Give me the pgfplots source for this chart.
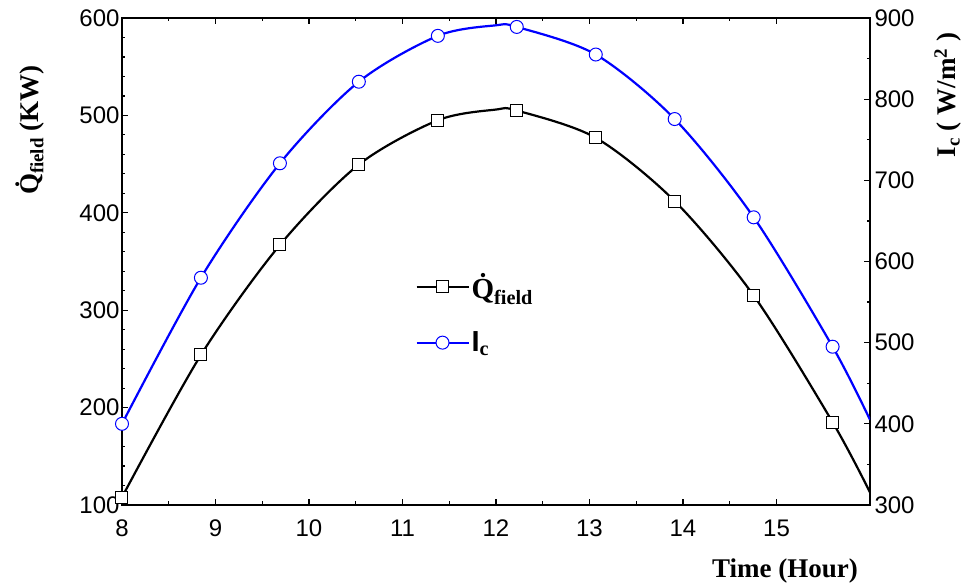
\documentclass[border=0pt]{standalone}
\usepackage{fontspec}
\setmainfont{Liberation Serif}
\setsansfont{Liberation Sans}
\usepackage{pgfplots}
\usepackage{pgfplotstable}
\pgfplotsset{compat=1.18}

% Q_field (KW), curve points
\pgfplotstableread{
x      q
8      108
8.844  254
9.689  367
10.533 449.5
11.378 495
12.0   506
12.222 505
13.067 477
13.911 412
14.756 315
15.6   185
16     113
}\qline
\pgfplotstableread{
x      q
8      108
8.844  254
9.689  367
10.533 449.5
11.378 495
12.222 505
13.067 477
13.911 412
14.756 315
15.6   185
}\qmarks
% I_c (W/m^2)
\pgfplotstableread{
x      i
8      400
8.844  580
9.689  721
10.533 821.5
11.378 878
12.0   891
12.222 889
13.067 855
13.911 775.5
14.756 654.4
15.6   495
16     405
}\iline
\pgfplotstableread{
x      i
8      400
8.844  580
9.689  721
10.533 821.5
11.378 878
12.222 889
13.067 855
13.911 775.5
14.756 654.4
15.6   495
}\imarks

\begin{document}
\begin{tikzpicture}
\pgfplotsset{
  every axis/.append style={
    scale only axis, width=748pt, height=487pt,
    at={(0pt,0pt)}, anchor=south west,
    xmin=8, xmax=16,
    tick align=inside,
    major tick length=6pt, minor tick length=3.5pt,
    every tick/.style={black, line width=1.2pt},
    tick label style={font=\fontsize{24}{24}\selectfont\sffamily},
    xticklabel style={yshift=-11pt},
    yticklabel style={xshift=1pt},
    /pgf/number format/assume math mode=true,
    axis line style={line width=2.8pt},
  },
}
\begin{axis}[
  ymin=100, ymax=600,
  ytick={100,200,...,600}, minor y tick num=4,
  xtick={8,...,15}, minor x tick num=1,
  ytick pos=left, xtick pos=both, xticklabel pos=bottom,
  legend style={draw=none, fill=none, at={(rel axis cs:0.392,0.48)}, anchor=north west,
    font=\fontsize{29}{31}\selectfont\bfseries, row sep=28pt, inner sep=0pt},
  legend cell align=left,
  legend image code/.code={\draw[mark repeat=2, mark phase=2, #1] plot coordinates {(0pt,0pt) (26pt,0pt) (52pt,0pt)};},
]
\addplot[black, line width=2.2pt, smooth, forget plot] table[x=x, y=q] {\qline};
\addplot[only marks, mark=square*, mark size=6pt, mark options={fill=white, draw=black, line width=1pt}, forget plot] table[x=x, y=q] {\qmarks};
\addlegendimage{black, line width=2.2pt, mark=square*, mark size=6pt, mark options={fill=white, draw=black, line width=1pt}}
\addlegendentry{\.{Q}\textsubscript{field}}
\addlegendimage{blue, line width=2.2pt, mark=*, mark size=6.5pt, mark options={fill=white, draw=blue, line width=1pt}}
\addlegendentry{{\sffamily I}\textsubscript{c}}
\end{axis}

\begin{axis}[
  ymin=300, ymax=900,
  ytick={300,400,...,900}, minor y tick num=1,
  axis y line*=right, axis x line=none,
]
\addplot[blue, line width=2.2pt, smooth] table[x=x, y=i] {\iline};
\addplot[only marks, mark=*, mark size=6.5pt, mark options={fill=white, draw=blue, line width=1pt}] table[x=x, y=i] {\imarks};
\end{axis}

\node[rotate=90, font=\fontsize{27}{27}\selectfont\bfseries] at (-92pt,375pt) {\.{Q}\textsubscript{field} (KW)};
\node[rotate=90, font=\fontsize{27}{27}\selectfont\bfseries] at (826pt,410pt) {I\textsubscript{c} ( W/m\textsuperscript{2} )};
\node[font=\fontsize{27}{27}\selectfont\bfseries] at (663pt,-66pt) {Time (Hour)};

\pgfresetboundingbox
\path (-122pt,-83pt) rectangle (845pt,505pt);
\end{tikzpicture}
\end{document}
